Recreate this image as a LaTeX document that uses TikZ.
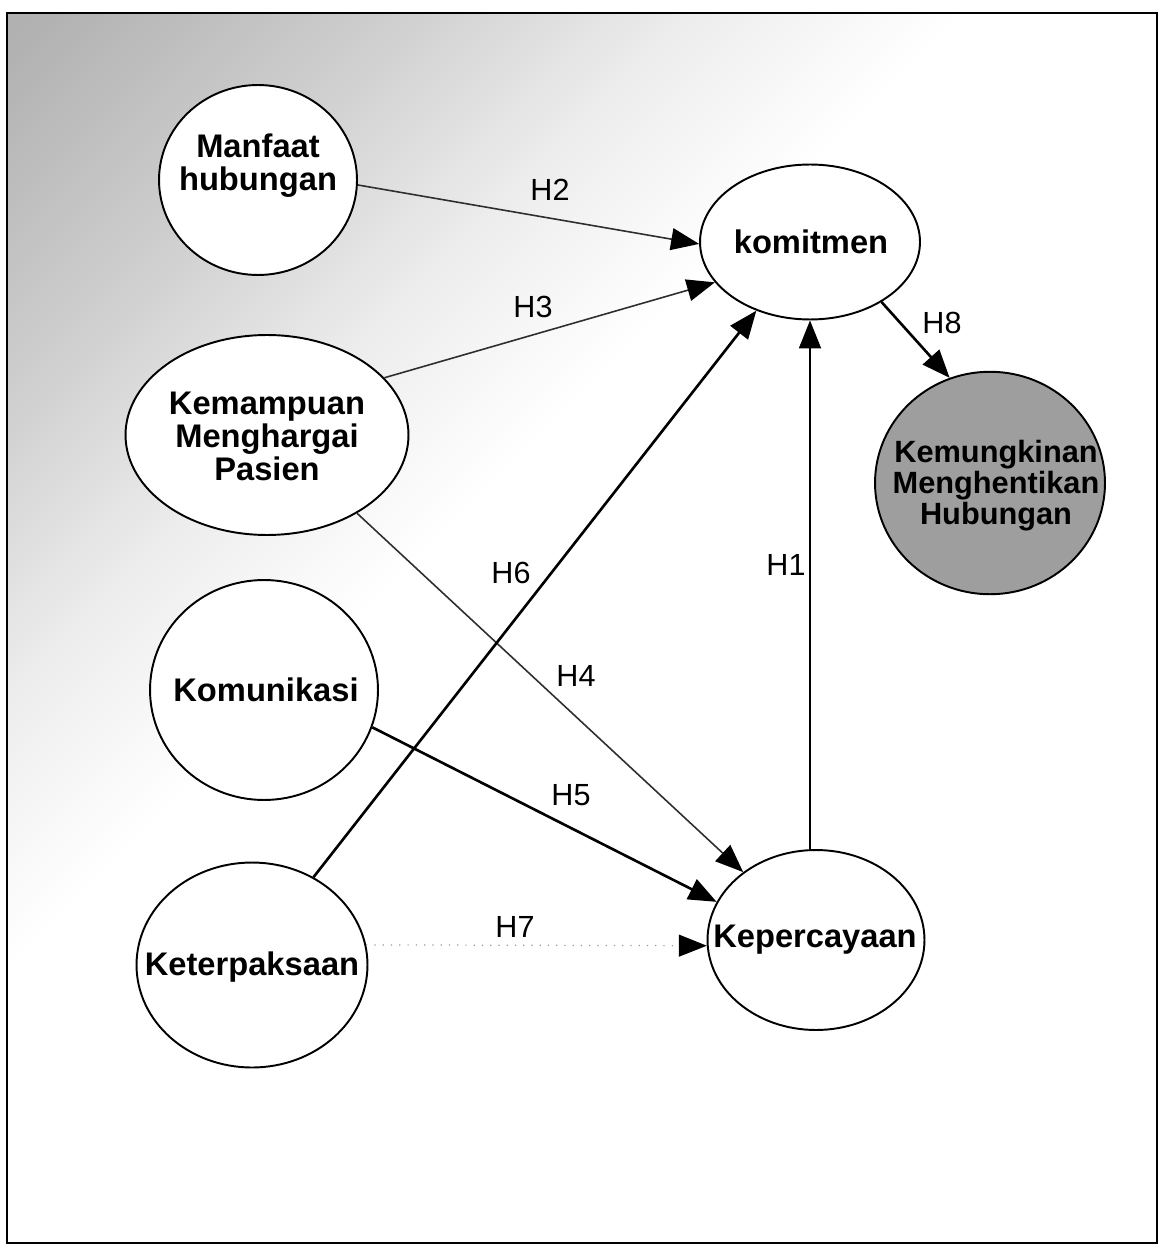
\documentclass[tikz,border=0pt]{standalone}
\usepackage{fontspec}
\setmainfont{Liberation Sans}
\usetikzlibrary{shapes.geometric,arrows.meta,shadings}
% soft diagonal tone behind the upper-left part of the model
\pgfdeclarehorizontalshading{cornertone}{100bp}{%
  color(0bp)=(black!38); color(16bp)=(black!30); color(26bp)=(black!19);
  color(35bp)=(black!7); color(43bp)=(white); color(100bp)=(white)}
\begin{document}
\begin{tikzpicture}[x=0.02cm,y=-0.02cm,
  construct/.style={ellipse,draw=black,line width=1.1pt,fill=white,inner sep=0pt},
  ctext/.style={align=center,inner sep=0pt,font=\fontsize{18.6}{18.8}\selectfont\bfseries},
  hyp/.style={font=\fontsize{17.4}{17.4}\selectfont},
  tip/.style={-{Triangle[length=0.56cm,width=0.44cm,color=black]}},
  hpath/.style={tip,line width=1.5pt,black},
  thinpath/.style={tip,line width=0.9pt,black!82},
  faintpath/.style={tip,line width=0.7pt,black!40,loosely dotted}]
% page and frame
\useasboundingbox (0,0) rectangle (1161,1246);
\fill[white] (0,0) rectangle (1161,1246);
\shade[shading=cornertone,shading angle=-45] (8,14) rectangle (1157,1242);
\draw[line width=1.6pt] (7,13) rectangle (1157,1243);

% constructs
\node[construct,minimum width=3.96cm,minimum height=3.8cm] (manfaat) at (258,180) {};
\node[construct,minimum width=5.66cm,minimum height=4.0cm] (kemampuan) at (267,435) {};
\node[construct,minimum width=4.56cm,minimum height=4.4cm] (komunikasi) at (264,690) {};
\node[construct,minimum width=4.62cm,minimum height=4.1cm] (keterpaksaan) at (252,965) {};
\node[construct,minimum width=4.40cm,minimum height=3.1cm] (komitmen) at (810,242) {};
\node[construct,minimum width=4.34cm,minimum height=3.6cm] (kepercayaan) at (816,940) {};
\node[construct,fill=black!38,minimum width=4.6cm,minimum height=4.45cm] (kemungkinan) at (990,483) {};

% construct names
\node[ctext] (manfaat-t) at (258,166) {Manfaat\\hubungan};
\node[ctext] (kemampuan-t) at (267,436) {Kemampuan\\Menghargai\\Pasien};
\node[ctext] (komunikasi-t) at (266,690) {Komunikasi};
\node[ctext] (keterpaksaan-t) at (252,967) {Keterpaksaan};
\node[ctext] (komitmen-t) at (811,242) {komitmen};
\node[ctext] (kepercayaan-t) at (815,940) {Kepercayaan};
\node[ctext,font=\fontsize{17.5}{17.6}\selectfont\bfseries] (kemungkinan-t) at (996,486)
  {Kemungkinan\\Menghentikan\\Hubungan};

% hypothesised paths
\draw[thinpath] (manfaat.east |- 0,185) -- (komitmen.181);
\draw[thinpath] (kemampuan.26) -- (komitmen.203);
\draw[thinpath] (kemampuan.-41) -- (kepercayaan.137);
\draw[hpath] (komunikasi.-19) -- (kepercayaan.159);
\draw[hpath] (keterpaksaan.55) -- (komitmen.232);
\draw[hpath,line width=1.1pt] (komitmen.south |- kepercayaan.north) -- (komitmen.south);
\draw[hpath] (komitmen.-40) -- (kemungkinan.111);
\draw[faintpath] (keterpaksaan.10) -- (kepercayaan.183);

% hypothesis labels
\node[hyp] (h2) at (550,190) {H2};
\node[hyp] (h3) at (533,307) {H3};
\node[hyp] (h8) at (942,323) {H8};
\node[hyp] (h6) at (511,573) {H6};
\node[hyp] (h1) at (786,565) {H1};
\node[hyp] (h4) at (576,676) {H4};
\node[hyp] (h5) at (571,795) {H5};
\node[hyp] (h7) at (515,927) {H7};
\end{tikzpicture}
\end{document}
